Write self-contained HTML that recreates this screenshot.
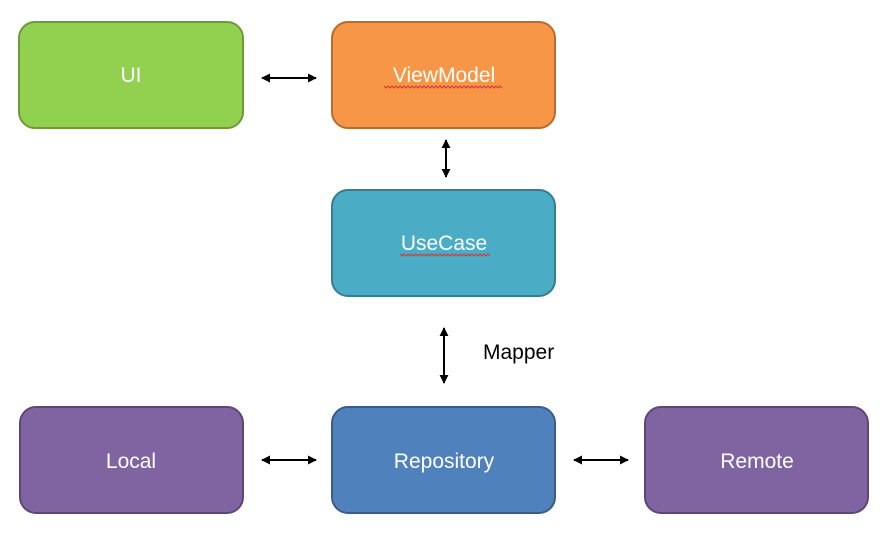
<!DOCTYPE html>
<html><head><style>body{margin:0;background:#fff}svg{display:block}text{font-family:"Liberation Sans",sans-serif;font-size:21px;fill:#fff;text-anchor:middle}</style></head>
<body>
<svg width="894" height="534" viewBox="0 0 894 534">
<defs>
<marker id="a" viewBox="0 0 10 10" refX="9" refY="5" markerWidth="4.5" markerHeight="4.5" orient="auto-start-reverse"><path d="M0,0L10,5L0,10z" fill="#000"/></marker>
</defs>
<g stroke-width="2">
<rect x="19" y="22" width="224" height="106" rx="16" fill="#92D050" stroke="#6f9a3a"/>
<rect x="332" y="22" width="223" height="106" rx="16" fill="#F79646" stroke="#b66d2f"/>
<rect x="332" y="190" width="223" height="106" rx="16" fill="#4BACC6" stroke="#357d91"/>
<rect x="20" y="407" width="223" height="106" rx="16" fill="#8064A2" stroke="#5c4776"/>
<rect x="332" y="407" width="223" height="106" rx="16" fill="#4F81BD" stroke="#385d8a"/>
<rect x="645" y="407" width="223" height="106" rx="16" fill="#8064A2" stroke="#5c4776"/>
</g>
<g stroke="#000" stroke-width="2" marker-start="url(#a)" marker-end="url(#a)">
<line x1="262" y1="78" x2="316" y2="78"/>
<line x1="446" y1="140" x2="446" y2="177"/>
<line x1="444" y1="328" x2="444" y2="383"/>
<line x1="262" y1="460" x2="316" y2="460"/>
<line x1="574" y1="460" x2="628" y2="460"/>
</g>
<text x="131" y="82">UI</text>
<text x="444" y="82">ViewModel</text>
<text x="444" y="250">UseCase</text>
<text x="131" y="468">Local</text>
<text x="444" y="468">Repository</text>
<text x="757" y="468">Remote</text>
<text x="483" y="359" style="fill:#000;text-anchor:start">Mapper</text>
<g stroke="#d33" stroke-width="1" fill="none">
<path d="M384,86 l2,2 l2,-2 l2,2 l2,-2 l2,2 l2,-2 l2,2 l2,-2 l2,2 l2,-2 l2,2 l2,-2 l2,2 l2,-2 l2,2 l2,-2 l2,2 l2,-2 l2,2 l2,-2 l2,2 l2,-2 l2,2 l2,-2 l2,2 l2,-2 l2,2 l2,-2 l2,2 l2,-2 l2,2 l2,-2 l2,2 l2,-2 l2,2 l2,-2 l2,2 l2,-2 l2,2 l2,-2 l2,2 l2,-2 l2,2 l2,-2 l2,2 l2,-2 l2,2 l2,-2 l2,2 l2,-2 l2,2 l2,-2 l2,2 l2,-2 l2,2 l2,-2 l2,2 l2,-2 l2,2"/>
<path d="M400,254 l2,2 l2,-2 l2,2 l2,-2 l2,2 l2,-2 l2,2 l2,-2 l2,2 l2,-2 l2,2 l2,-2 l2,2 l2,-2 l2,2 l2,-2 l2,2 l2,-2 l2,2 l2,-2 l2,2 l2,-2 l2,2 l2,-2 l2,2 l2,-2 l2,2 l2,-2 l2,2 l2,-2 l2,2 l2,-2 l2,2 l2,-2 l2,2 l2,-2 l2,2 l2,-2 l2,2 l2,-2 l2,2 l2,-2 l2,2 l2,-2 l2,2"/>
</g>
</svg>
</body></html>
